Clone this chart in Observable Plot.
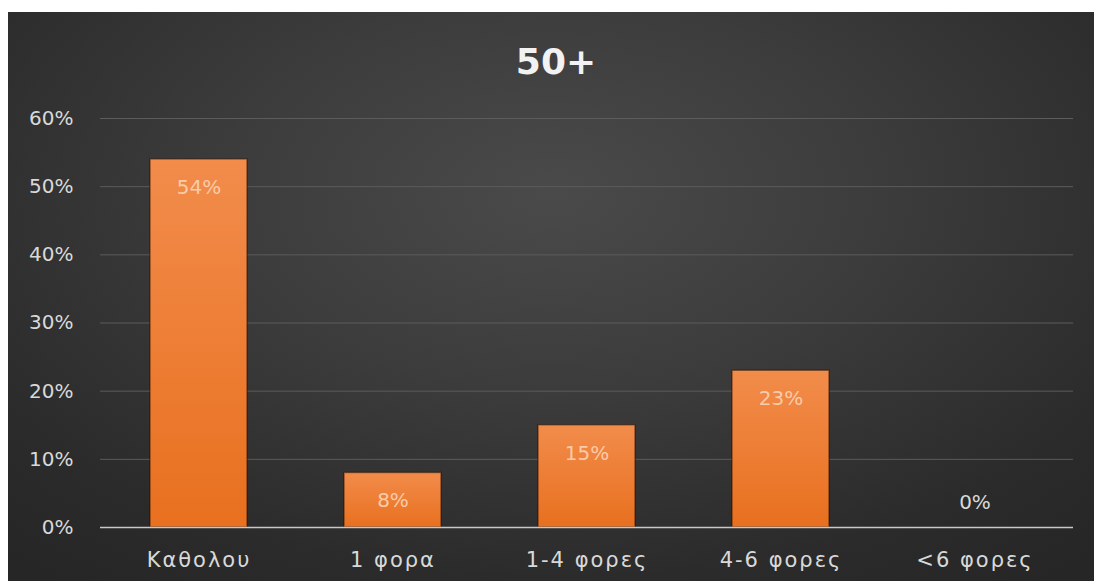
<!DOCTYPE html>
<html>
<head>
<meta charset="utf-8">
<script src="https://cdn.jsdelivr.net/npm/d3@7"></script>
<script src="https://cdn.jsdelivr.net/npm/@observablehq/plot@0.6"></script>
<style>
  html, body { margin: 0; padding: 0; background: #ffffff; }
  #panel {
    position: absolute; left: 8px; top: 12px; width: 1086px; height: 569px;
    background: radial-gradient(ellipse 75% 85% at 50% 32%, #4a4a4a 0%, #3c3c3c 40%, #2b2b2b 80%, #262626 100%);
    overflow: hidden;
  }
  #title {
    position: absolute; left: 0; top: 0; width: 1086px; padding-left: 10px; box-sizing: border-box;
    text-align: center; line-height: 100px; height: 78px;
    font-family: "DejaVu Sans", sans-serif; font-weight: bold; font-size: 36px; color: #f2f2f2;
  }
  #chart { position: absolute; left: 0; top: 78px; }
  #chart svg g[aria-label="x-axis tick label"] text { letter-spacing: 2px; }
</style>
</head>
<body>
<div id="panel">
  <div id="title">50+</div>
  <div id="chart"></div>
</div>
<script>
// Share of respondents aged 50+ by frequency
const categories = ["Καθολου", "1 φορα", "1-4 φορες", "4-6 φορες", "<6 φορες"];
const values = [54, 8, 15, 23, 0];
const yTicks = [0, 10, 20, 30, 40, 50, 60];

const data = categories.map((cat, i) => ({cat, value: values[i]}));

const chart = Plot.plot({
  width: 1086,
  height: 491,
  marginTop: 28,
  marginBottom: 54,
  marginLeft: 92,
  marginRight: 21,
  style: {
    background: "transparent",
    fontFamily: "'DejaVu Sans', sans-serif",
    fontSize: "20px",
    color: "#d9d9d9"
  },
  x: {domain: categories, paddingInner: 0.5, paddingOuter: 0.25, label: null},
  y: {domain: [0, 60], label: null},
  marks: [
    Plot.gridY(yTicks.filter(d => d > 0), {stroke: "#5c5c5c", strokeOpacity: 1, strokeWidth: 1}),
    Plot.axisY(yTicks, {tickSize: 0, tickPadding: 27, tickFormat: d => d + "%", fontSize: 20, fill: "#d9d9d9", label: null}),
    Plot.axisX({tickSize: 0, tickPadding: 25, fontSize: 21, fill: "#d9d9d9", label: null}),
    Plot.barY(data, {x: "cat", y: "value", fill: "url(#barGrad)", stroke: "#1a0a00", strokeOpacity: 0.45, strokeWidth: 1.5}),
    Plot.ruleY([0], {stroke: "#c8c8c8", strokeWidth: 1.5}),
    Plot.text(data.filter(d => d.value > 0), {x: "cat", y: "value", text: d => d.value + "%", dy: 28, fill: "#f9cba9", fontSize: 20}),
    Plot.text(data.filter(d => d.value === 0), {x: "cat", y: "value", text: d => d.value + "%", dy: -25, fill: "#d9d9d9", fontSize: 20})
  ]
});

// vertical orange gradient used by the bars
const defs = d3.select(chart).insert("defs", ":first-child");
const grad = defs.append("linearGradient")
  .attr("id", "barGrad").attr("x1", 0).attr("y1", 0).attr("x2", 0).attr("y2", 1);
grad.append("stop").attr("offset", "0%").attr("stop-color", "#f28c4b");
grad.append("stop").attr("offset", "100%").attr("stop-color", "#e8701f");

document.getElementById("chart").appendChild(chart);
</script>
</body>
</html>
